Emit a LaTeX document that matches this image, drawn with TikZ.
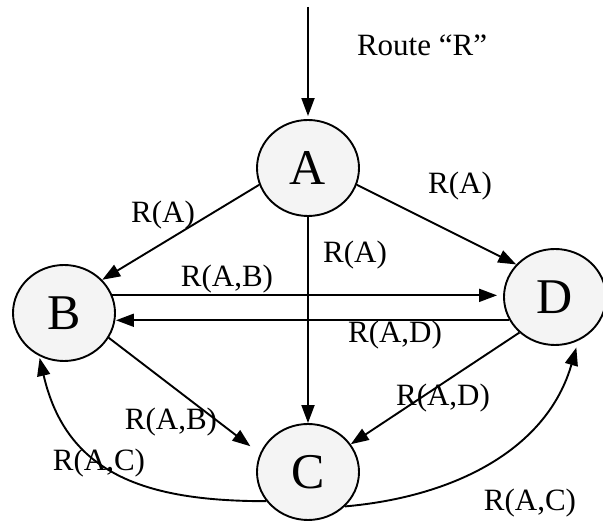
\documentclass[tikz,border=0pt]{standalone}
\usepackage{fontspec}
\setmainfont{Liberation Serif}
\usetikzlibrary{arrows.meta,shapes.geometric}
\definecolor{routergray}{RGB}{244,244,244}
\tikzset{
  router/.style={ellipse, draw=black, line width=1.9pt, fill=routergray,
                 minimum width=102pt, minimum height=96pt, inner sep=0pt,
                 font=\fontsize{50}{55}\selectfont},
  flow/.style={-{Triangle[length=18pt,width=13pt]}, line width=1.9pt},
  lab/.style={font=\fontsize{31}{34}\selectfont, inner sep=0pt},
}

\begin{document}
\begin{tikzpicture}[x=1pt,y=1pt]
  \path[use as bounding box] (0,0) rectangle (603,521);

  % Routers.
  \node[router] (A) at (308,353) {A};
  \node[router] (B) at (64,208) {B};
  \node[router] (C) at (308,49) {C};
  \node[router] (D) at (555,224) {D};
  \coordinate (src) at (308,514);

  % Route advertisement.
  \draw[flow, shorten >=3pt] (src) -- (A.north);
  \draw[flow] (A.199) -- (B.41);
  \draw[flow] (A.-19) -- (D.140);
  \draw[flow] (A.south) -- (C.north);
  \draw[flow, shorten >=6pt] (B.20) -- (B.20 -| D.west);
  \draw[flow] (D.-153) -- (D.-153 -| B.east);
  \draw[flow, shorten >=12pt] (B.-29) -- (C.159);
  \draw[flow] (D.225) -- (C.33);
  \draw[flow, shorten >=2pt] (C.215) to[out=180, in=-77, looseness=1.15] (B.240);
  \draw[flow, shorten >=7pt] (C.-43) to[out=5, in=-106] (D.-62);

  % Labels.
  \node[lab] (lR) at (422,476) {Route “R”};
  \node[lab] (lAB1) at (163,306) {R(A)};
  \node[lab] (lAD1) at (460,335) {R(A)};
  \node[lab] (lAC1) at (355,266) {R(A)};
  \node[lab] (lBD) at (227,242) {R(A,B)};
  \node[lab] (lDB) at (395,186) {R(A,D)};
  \node[lab] (lBC) at (171,99) {R(A,B)};
  \node[lab] (lDC) at (443,123) {R(A,D)};
  \node[lab] (lCB) at (99,58) {R(A,C)};
  \node[lab] (lCD) at (530,18) {R(A,C)};
\end{tikzpicture}
\end{document}
